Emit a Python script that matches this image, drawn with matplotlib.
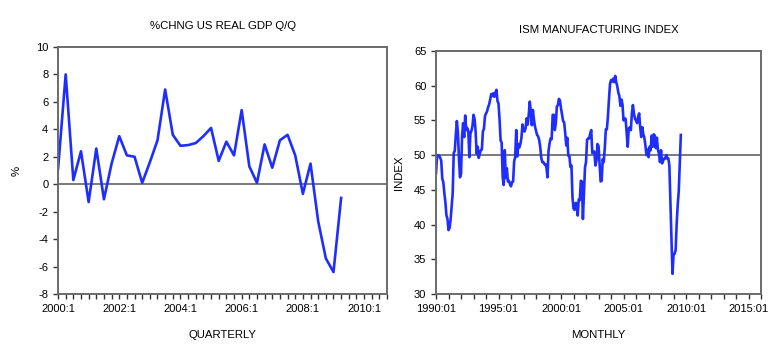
import matplotlib
matplotlib.use("Agg")
import matplotlib.pyplot as plt
from matplotlib.ticker import MultipleLocator
import numpy as np
import pandas as pd

plt.rcParams['font.family'] = ['Liberation Sans', 'DejaVu Sans']
plt.rcParams['axes.unicode_minus'] = False

# real GDP % change q/q (annualised), 2000:1 .. 2009:2
gdp_start = "2000Q1"
gdp = [1.1, 8.0, 0.3, 2.4,
       -1.3, 2.6, -1.1, 1.5,
       3.5, 2.1, 2.0, 0.1,
       1.6, 3.2, 6.9, 3.6,
       2.8, 2.85, 3.0, 3.5,
       4.1, 1.7, 3.1, 2.1,
       5.4, 1.3, 0.1, 2.9,
       1.2, 3.2, 3.6, 2.1,
       -0.7, 1.5, -2.7, -5.4,
       -6.4, -1.0]

# ISM manufacturing index, monthly 1990:01 .. 2009:08
ism_start = "1990-01"
ism = [47.4, 49.8, 50.0, 49.9, 49.6, 49.2, 46.6, 46.1, 44.5, 43.2, 41.3, 40.8,
       39.2, 39.5, 40.7, 42.7, 44.5, 50.3, 50.6, 52.9, 54.9, 53.3, 49.5, 46.8,
       47.3, 52.7, 54.6, 52.6, 55.7, 53.6, 53.9, 53.4, 49.7, 53.1, 53.5, 54.2,
       55.8, 55.2, 53.4, 50.2, 51.2, 49.6, 50.2, 50.7, 50.8, 53.4, 53.8, 55.6,
       56.0, 56.3, 56.9, 57.3, 58.0, 58.8, 58.5, 58.9, 58.4, 59.0, 59.4, 57.8,
       57.4, 55.1, 52.1, 51.8, 46.8, 45.7, 50.7, 46.7, 48.1, 46.2, 46.3, 45.8,
       45.5, 46.1, 46.2, 49.1, 49.7, 53.6, 49.8, 51.6, 51.1, 51.6, 52.5, 54.4,
       53.5, 53.4, 53.9, 55.3, 54.4, 55.8, 57.7, 56.3, 54.3, 56.5, 55.1, 54.1,
       53.5, 52.9, 52.7, 52.2, 51.2, 49.6, 49.0, 49.0, 48.7, 48.7, 48.2, 46.8,
       50.6, 51.7, 52.4, 52.3, 55.8, 55.8, 53.6, 54.6, 57.0, 57.2, 58.1, 57.8,
       56.7, 55.8, 54.9, 54.7, 53.2, 51.4, 52.5, 49.9, 49.9, 48.3, 48.5, 43.9,
       42.3, 42.1, 43.1, 43.1, 41.3, 43.6, 43.5, 46.3, 46.2, 40.8, 44.5, 48.2,
       49.0, 52.2, 52.4, 52.4, 53.1, 53.6, 50.3, 50.5, 50.5, 48.5, 49.2, 51.6,
       51.3, 48.8, 46.2, 46.3, 49.4, 49.0, 51.0, 53.7, 53.7, 55.5, 58.0, 60.2,
       60.8, 60.6, 61.0, 60.5, 61.4, 60.5, 59.9, 59.0, 58.5, 57.1, 58.0, 57.3,
       55.0, 55.3, 55.2, 53.3, 51.2, 53.8, 54.0, 53.6, 56.0, 57.2, 56.0, 55.2,
       55.0, 54.6, 55.5, 56.0, 54.0, 52.6, 54.0, 53.0, 52.5, 51.4, 50.0, 50.8,
       49.7, 51.2, 50.7, 52.8, 51.2, 53.0, 52.8, 51.0, 52.5, 50.8, 50.2, 49.0,
       50.7, 48.8, 49.2, 49.5, 49.5, 50.0, 49.5, 49.5, 48.5, 43.5, 38.0, 32.9,
       35.6, 35.8, 36.3, 40.1, 42.8, 44.8, 48.9, 52.9]

gdp_idx = pd.period_range(gdp_start, periods=len(gdp), freq='Q')
gdp_x = gdp_idx.year + (gdp_idx.quarter - 1) / 4
ism_idx = pd.period_range(ism_start, periods=len(ism), freq='M')
ism_x = ism_idx.year + (ism_idx.month - 1) / 12

line_col = '#1f2eff'
spine_col = '#6a6a6a'

fig = plt.figure(figsize=(7.8, 3.58), dpi=100)
ax1 = fig.add_axes([0.0744, 0.1788, 0.4218, 0.690])
ax2 = fig.add_axes([0.559, 0.1788, 0.4167, 0.679])


def style(ax):
    for s in ax.spines.values():
        s.set_color(spine_col)
        s.set_linewidth(1.4)
    ax.tick_params(axis='both', which='both', direction='out', color='#333333',
                   labelsize=8, width=1.0)
    ax.tick_params(axis='both', which='major', length=3.5)
    ax.tick_params(axis='x', which='minor', length=3.5)


# left: GDP
ax1.axhline(0, color='#7a7a7a', lw=1.4, zorder=1)
ax1.plot(gdp_x, gdp, color=line_col, lw=1.9, zorder=2)
ax1.set_xlim(2000.0, 2010.75)
ax1.set_ylim(-8, 10)
ax1.yaxis.set_major_locator(MultipleLocator(2))
ax1.set_xticks(np.arange(2000, 2011, 2))
ax1.set_xticklabels([f"{y}:1" for y in range(2000, 2011, 2)])
ax1.xaxis.set_minor_locator(MultipleLocator(0.25))
style(ax1)
ax1.set_title("%CHNG US REAL GDP Q/Q", fontsize=8.2, pad=13)
ax1.set_xlabel("QUARTERLY", fontsize=8.2, labelpad=12)
ax1.set_ylabel("%", fontsize=8.2, labelpad=10)

# right: ISM
ax2.axhline(50, color='#7a7a7a', lw=1.4, zorder=1)
ax2.plot(ism_x, ism, color=line_col, lw=1.9, zorder=2)
ax2.set_xlim(1990.0, 2016.0)
ax2.set_ylim(30, 65)
ax2.yaxis.set_major_locator(MultipleLocator(5))
ax2.set_xticks(np.arange(1990, 2016, 5))
ax2.set_xticklabels([f"{y}:01" for y in range(1990, 2016, 5)])
ax2.xaxis.set_minor_locator(MultipleLocator(1))
style(ax2)
ax2.set_title("ISM MANUFACTURING INDEX", fontsize=8.2, pad=13)
ax2.set_xlabel("MONTHLY", fontsize=8.2, labelpad=12)
ax2.set_ylabel("INDEX", fontsize=8.2, labelpad=7)

fig.savefig("out.png", dpi=100)
